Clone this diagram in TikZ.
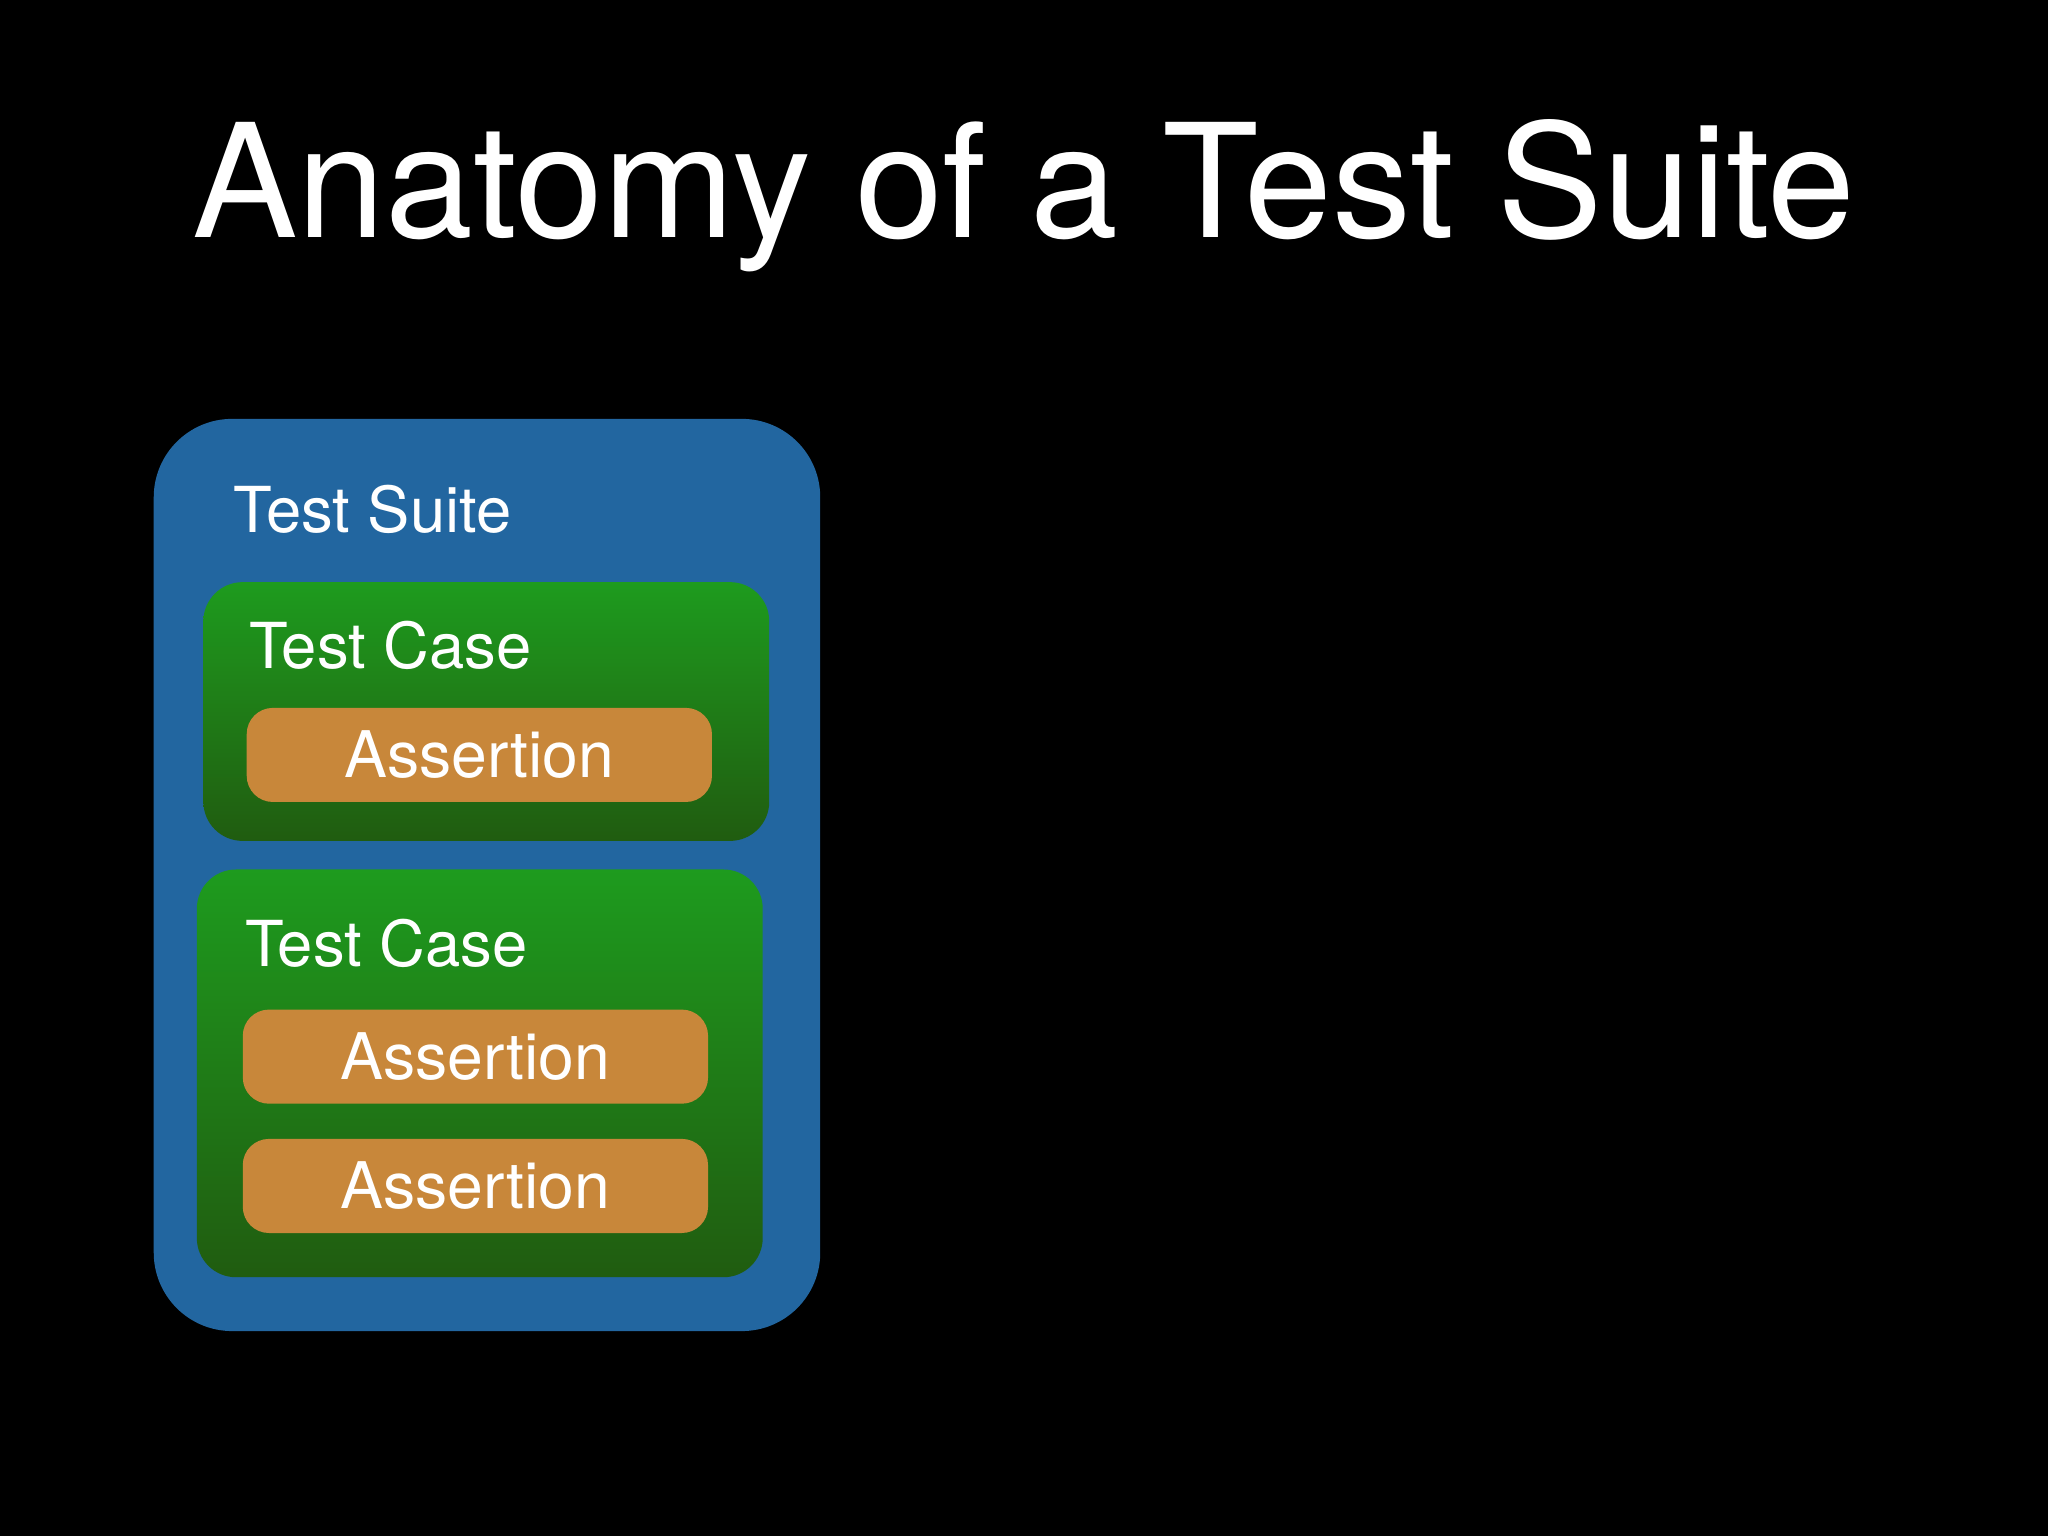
\documentclass[tikz,border=0pt]{standalone}
\usepackage{fontspec}
\setmainfont{TeX Gyre Heros}
\usetikzlibrary{positioning}
\definecolor{suiteblue}{RGB}{34,102,160}
\definecolor{casetop}{RGB}{30,155,30}
\definecolor{casebot}{RGB}{32,92,16}
\definecolor{assertorange}{RGB}{200,135,58}

\begin{document}
\begin{tikzpicture}[x=0.01cm,y=-0.01cm,
suite/.style={rectangle,rounded corners=0.6cm,fill=suiteblue,minimum width=5.1cm,minimum height=6.98cm},
testcase/.style={rectangle,rounded corners=0.3cm,top color=casetop,bottom color=casebot,minimum width=4.33cm},
assertion/.style={rectangle,rounded corners=0.2cm,fill=assertorange,minimum width=3.56cm,minimum height=0.72cm,text=white,font=\fontsize{14}{17}\selectfont},
label/.style={text=white,anchor=base west,inner sep=0pt,font=\fontsize{13.8}{17}\selectfont}]

\fill[black] (0,0) rectangle (1568,1176);
\useasboundingbox (0,0) rectangle (1568,1176);

\node (title) [text=white,anchor=base,inner sep=0pt,font=\fontsize{34.4}{40}\selectfont] at (784,182) {Anatomy of a Test Suite};

\node (suite) [suite,anchor=north west] at (117,320) {};
\node (suitelabel) [label] at (178,408) {Test Suite};

% first case
\node (caseA) [testcase,anchor=north west,minimum height=1.98cm] at (155,445) {};
\node (caseAlabel) [label] at (190,512) {Test Case};
\node (assertA) [assertion] at (367,578) {Assertion};

% second case
\node (caseB) [testcase,anchor=north west,minimum height=3.12cm] at (150,665) {};
\node (caseBlabel) [label] at (187,740) {Test Case};
\node (assertB) [assertion] at (364,809) {Assertion};
\node (assertC) [assertion] at (364,908) {Assertion};

\end{tikzpicture}
\end{document}
